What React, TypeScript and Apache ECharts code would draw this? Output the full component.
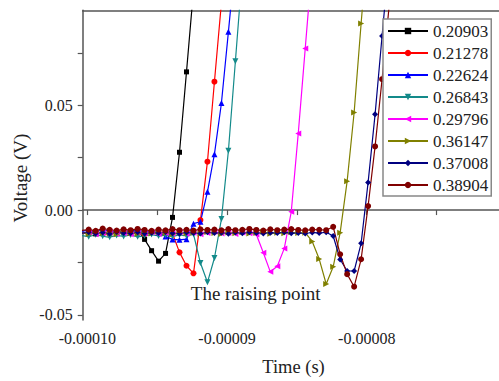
import React, { useEffect, useRef } from "react";
import * as echarts from "echarts";

// Sampling times (microseconds)
const TIME_US = [
  -100.4, -99.9, -99.4, -98.9, -98.4, -97.9, -97.4, -96.9, -96.4, -95.9,
  -95.4, -94.9, -94.4, -93.9, -93.4, -92.9, -92.4, -91.9, -91.4, -90.9,
  -90.4, -89.9, -89.4, -88.9, -88.4, -87.9, -87.4, -86.9, -86.4, -85.9,
  -85.4, -84.9, -84.4, -83.9, -83.4, -82.9, -82.4, -81.9, -81.4, -80.9,
  -80.4, -79.9, -79.4, -78.9, -78.4, -77.9,
];

const NAMES = ["0.20903", "0.21278", "0.22624", "0.26843", "0.29796", "0.36147", "0.37008", "0.38904"];

const V_20903 = [
  -0.0112, -0.0106, -0.0114, -0.0109, -0.0104, -0.0113, -0.0108, -0.0103,
  -0.0097, -0.014, -0.0194, -0.0244, -0.0207, -0.0035, 0.0276, 0.066, 0.105,
];
const V_21278 = [
  -0.0108, -0.0113, -0.0104, -0.0111, -0.0116, -0.0107, -0.0102, -0.0112, -0.0109, -0.0115,
  -0.0106, -0.011, -0.0104, -0.0112,
  -0.0202, -0.0266, -0.0302, -0.0048, 0.0231, 0.0613, 0.099,
];
const V_22624 = [
  -0.0101, -0.0097, -0.0105, -0.0093, -0.01, -0.0106, -0.0098, -0.0103, -0.0096, -0.0104,
  -0.01, -0.0107,
  -0.0126, -0.014, -0.0142, -0.0139, -0.0065, -0.0056, 0.0087, 0.0267, 0.0511, 0.0851, 0.12,
];
const V_26843 = [
  -0.0122, -0.0127, -0.0118, -0.0125, -0.013, -0.0121, -0.0126, -0.0119, -0.0128, -0.0123,
  -0.0117, -0.0124, -0.012, -0.0126, -0.0119, -0.0123, -0.0115,
  -0.0253, -0.0345, -0.0229, -0.0043, 0.0283, 0.0711, 0.114,
];
const V_29796 = [
  -0.0112, -0.0106, -0.0115, -0.0109, -0.0104, -0.0113, -0.011, -0.0116, -0.0107, -0.0111,
  -0.0105, -0.0114, -0.0109, -0.0112, -0.0106, -0.0113, -0.0108, -0.0115, -0.011, -0.0104,
  -0.0112, -0.0109, -0.0114, -0.0107, -0.0111,
  -0.0117, -0.0204, -0.0295, -0.0268, -0.0183, -0.0008, 0.0366, 0.0772, 0.118,
];
const V_36147 = [
  -0.0109, -0.0114, -0.0105, -0.0111, -0.0108, -0.0116, -0.0103, -0.011, -0.0113, -0.0107,
  -0.0112, -0.0104, -0.0109, -0.0115, -0.0106, -0.0111, -0.0108, -0.0113, -0.0105, -0.011,
  -0.0114, -0.0107, -0.0111, -0.0106, -0.0112, -0.0109, -0.0104, -0.0113, -0.0108, -0.0111,
  -0.0106, -0.011, -0.0108,
  -0.015, -0.0234, -0.0353, -0.0271, -0.0108, 0.0138, 0.0466, 0.0891, 0.13,
];
const V_37008 = [
  -0.011, -0.0106, -0.0112, -0.0107, -0.0113, -0.0105, -0.0109, -0.0111, -0.0106, -0.0112,
  -0.0108, -0.011, -0.0105, -0.0111, -0.0113, -0.0107, -0.0109, -0.0112, -0.0106, -0.011,
  -0.0108, -0.0113, -0.0107, -0.0111, -0.0106, -0.0109, -0.0112, -0.0108, -0.011, -0.0106,
  -0.0111, -0.0109, -0.0112, -0.0107, -0.011, -0.0106,
  -0.0124, -0.0236, -0.0291, -0.0291, -0.0159, 0.0132, 0.0457, 0.0831, 0.12,
];
const V_38904 = [
  -0.0097, -0.0093, -0.0099, -0.0088, -0.0094, -0.0098, -0.0092, -0.0096, -0.009, -0.0095,
  -0.0099, -0.0093, -0.0097, -0.0091, -0.0096, -0.0094, -0.0098, -0.0092, -0.0095, -0.0093,
  -0.0097, -0.0091, -0.0096, -0.0094, -0.009, -0.0095, -0.0098, -0.0092, -0.0096, -0.0093,
  -0.0091, -0.0095, -0.0097, -0.0093, -0.0094,
  -0.0096, -0.008, -0.0211, -0.0306, -0.0366, -0.0235, 0.0019, 0.0304, 0.0625, 0.097, 0.13,
];

const VALUES = [V_20903, V_21278, V_22624, V_26843, V_29796, V_36147, V_37008, V_38904];
const COLORS = ["#000000", "#ff0000", "#0000ff", "#138a8a", "#ff00ff", "#808000", "#000080", "#800000"];
const SYMBOLS = ["rect", "circle", "triangle", "triangle", "triangle", "triangle", "diamond", "circle"];
const ROTATES = [0, 0, 0, 180, 90, -90, 0, 0];

const X_LABELS = [-0.0001, -0.00009, -0.00008];
const X_TICKS = [-0.0001, -0.000095, -0.00009, -0.000085, -0.00008, -0.000075];
const Y_LABELS = [-0.05, 0, 0.05];
const Y_TICKS = [-0.05, -0.025, 0, 0.025, 0.05, 0.075];

const FAMILY = "Liberation Serif";

export default function App() {
  const ref = useRef<HTMLDivElement>(null);
  useEffect(() => {
    if (!ref.current) return;
    const chart = echarts.init(ref.current, null, { renderer: "svg" });
    const series = VALUES.map((vals, i) => ({
      name: NAMES[i],
      type: "line",
      xAxisIndex: 0,
      yAxisIndex: 0,
      data: vals.map((v, j) => [TIME_US[j] * 1e-6, v]),
      symbol: SYMBOLS[i],
      symbolRotate: ROTATES[i],
      symbolSize: i === 0 ? 5 : 6,
      showSymbol: true,
      showAllSymbol: true,
      clip: true,
      lineStyle: { color: COLORS[i], width: 1.2 },
      itemStyle: { color: COLORS[i] },
      emphasis: { disabled: true },
    }));
    const axisLine = { show: true, lineStyle: { color: "#555", width: 1.5 } };
    chart.setOption({
      animation: false,
      backgroundColor: "#fff",
      textStyle: { fontFamily: FAMILY },
      grid: { left: 82.7, top: 10.3, right: 0, bottom: 61 },
      xAxis: [
        {
          type: "value",
          min: -0.00010033,
          max: -0.00007053,
          axisLine,
          axisTick: { show: true, customValues: X_TICKS, length: 5, lineStyle: { color: "#555", width: 1.2 } },
          axisLabel: {
            customValues: X_LABELS,
            formatter: (v: number) => v.toFixed(5),
            fontFamily: "serif",
            fontSize: 16,
            color: "#222",
            margin: 10,
          },
          splitLine: { show: false },
        },
        {
          type: "value",
          position: "top",
          min: -0.00010033,
          max: -0.00007053,
          axisLine,
          axisTick: { show: false },
          axisLabel: { show: false },
          splitLine: { show: false },
        },
      ],
      yAxis: {
        type: "value",
        min: -0.0525,
        max: 0.0954,
        axisLine,
        axisTick: { show: true, customValues: Y_TICKS, length: 5, lineStyle: { color: "#555", width: 1.2 } },
        axisLabel: {
          customValues: Y_LABELS,
          formatter: (v: number) => v.toFixed(2),
          fontFamily: "Times New Roman",
          fontSize: 16,
          color: "#222",
          margin: 10,
        },
        splitLine: { show: false },
      },
      legend: {
        data: NAMES,
        orient: "vertical",
        left: 383,
        top: 19,
        itemWidth: 40,
        itemHeight: 8,
        itemGap: 4,
        padding: [3, 3, 2, 4],
        backgroundColor: "#fff",
        borderColor: "#888",
        borderWidth: 1.5,
        textStyle: { fontFamily: "serif", fontSize: 17, color: "#222", lineHeight: 18 },
      },
      graphic: [
        {
          type: "text",
          x: 255.7,
          y: 293,
          style: {
            text: "The raising point",
            font: `19px ${FAMILY}`,
            fill: "#222",
            textAlign: "center",
            textVerticalAlign: "middle",
          },
        },
        {
          type: "text",
          x: 20,
          y: 178,
          rotation: Math.PI / 2,
          style: {
            text: "Voltage (V)",
            font: `19px ${FAMILY}`,
            fill: "#222",
            textAlign: "center",
            textVerticalAlign: "middle",
          },
        },
        {
          type: "text",
          x: 293.5,
          y: 367,
          style: {
            text: "Time (s)",
            font: `18.5px ${FAMILY}`,
            fill: "#222",
            textAlign: "center",
            textVerticalAlign: "middle",
          },
        },
      ],
      series,
    });
    return () => chart.dispose();
  }, []);
  return (
    <div
      ref={ref}
      style={{ position: "fixed", left: 0, top: 0, width: 499, height: 381, background: "#fff" }}
    />
  );
}
